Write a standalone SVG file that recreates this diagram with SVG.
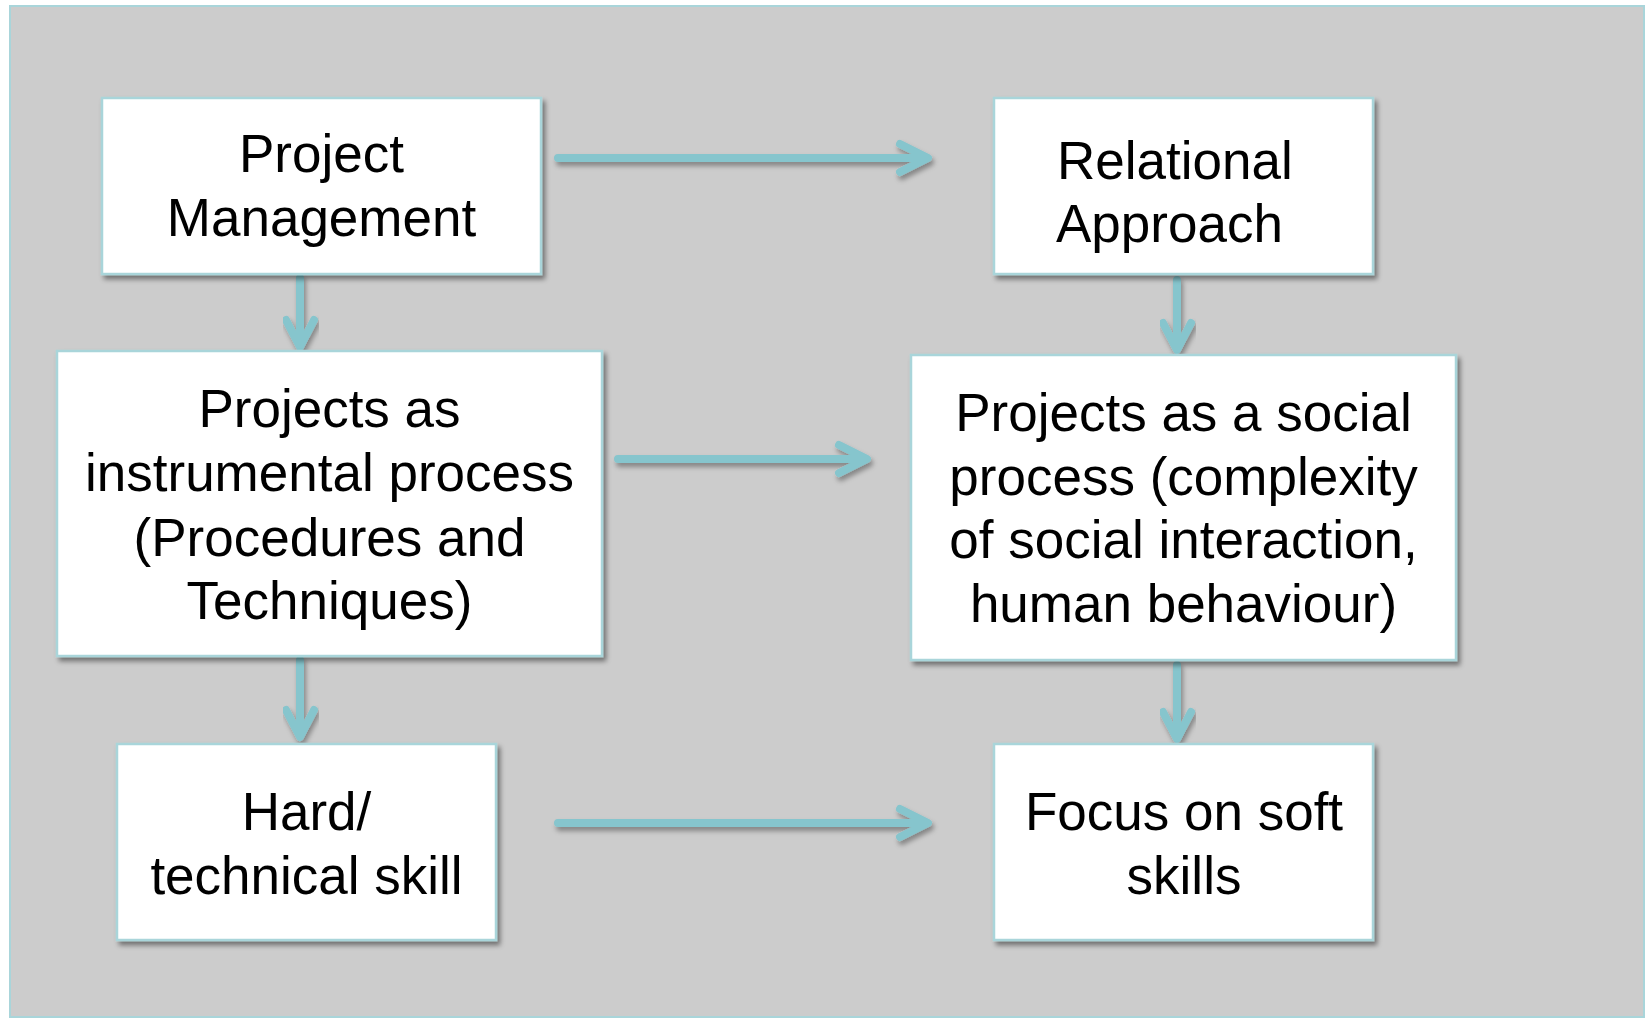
<svg xmlns="http://www.w3.org/2000/svg" width="1650" height="1020" viewBox="0 0 1650 1020">
  <defs>
    <filter id="shadow" x="-10%" y="-10%" width="125%" height="130%">
      <feDropShadow dx="3" dy="4" stdDeviation="2.5" flood-color="#000" flood-opacity="0.45"/>
    </filter>
    <filter id="lineShadow" x="-10%" y="-60%" width="125%" height="230%">
      <feDropShadow dx="2" dy="4" stdDeviation="2.5" flood-color="#000" flood-opacity="0.35"/>
    </filter>
  </defs>
  <style>
    .panel { fill: #cccccc; stroke: #a9d5da; stroke-width: 2; }
    .box { fill: #ffffff; stroke: #a9d5da; stroke-width: 2.5; filter: url(#shadow); }
    .label { font-family: "Liberation Sans", Arial, sans-serif; font-size: 53px; fill: #000; text-anchor: middle; }
    .left { text-anchor: start; }
    .conn { fill: none; stroke: #86c5cd; stroke-width: 8; stroke-linecap: round; stroke-linejoin: round; filter: url(#lineShadow); }
  </style>

  <!-- background panel -->
  <rect class="panel" x="10" y="6" width="1634" height="1011"/>

  <!-- connectors: shaft plus open chevron head -->
  <g id="connectors">
    <path class="conn" d="M558 158 H926 M900 144 L928 158 L900 172"/>
    <path class="conn" d="M618 459 H865 M839 445 L867 459 L839 473"/>
    <path class="conn" d="M558 823 H926 M900 809 L928 823 L900 837"/>
    <path class="conn" d="M300 278 V345 M286 320 L300 347 L314 320"/>
    <path class="conn" d="M300 660 V735 M286 710 L300 737 L314 710"/>
    <path class="conn" d="M1177 280 V348 M1163 323 L1177 350 L1191 323"/>
    <path class="conn" d="M1177 665 V737 M1163 712 L1177 739 L1191 712"/>
  </g>

  <g id="project-management">
    <rect class="box" x="102" y="98" width="439" height="176"/>
    <text class="label" x="321.5" y="172">Project</text>
    <text class="label" x="321.5" y="236">Management</text>
  </g>

  <g id="relational-approach">
    <rect class="box" x="994" y="98" width="379" height="176"/>
    <text class="label left" x="1057" y="179">Relational</text>
    <text class="label left" x="1056" y="242">Approach</text>
  </g>

  <g id="instrumental-process">
    <rect class="box" x="57" y="351" width="545" height="305"/>
    <text class="label" x="329.5" y="427">Projects as</text>
    <text class="label" x="329.5" y="491">instrumental process</text>
    <text class="label" x="329.5" y="556">(Procedures and</text>
    <text class="label" x="329.5" y="619">Techniques)</text>
  </g>

  <g id="social-process">
    <rect class="box" x="911" y="355" width="545" height="305"/>
    <text class="label" x="1183.5" y="431">Projects as a social</text>
    <text class="label" x="1183.5" y="495">process (complexity</text>
    <text class="label" x="1183.5" y="558">of social interaction,</text>
    <text class="label" x="1183.5" y="622">human behaviour)</text>
  </g>

  <g id="hard-skill">
    <rect class="box" x="117" y="744" width="379" height="196"/>
    <text class="label" x="306.5" y="830">Hard/</text>
    <text class="label" x="306.5" y="894">technical skill</text>
  </g>

  <g id="soft-skills">
    <rect class="box" x="994" y="744" width="379" height="196"/>
    <text class="label" x="1184" y="830">Focus on soft</text>
    <text class="label" x="1184" y="894">skills</text>
  </g>
</svg>
